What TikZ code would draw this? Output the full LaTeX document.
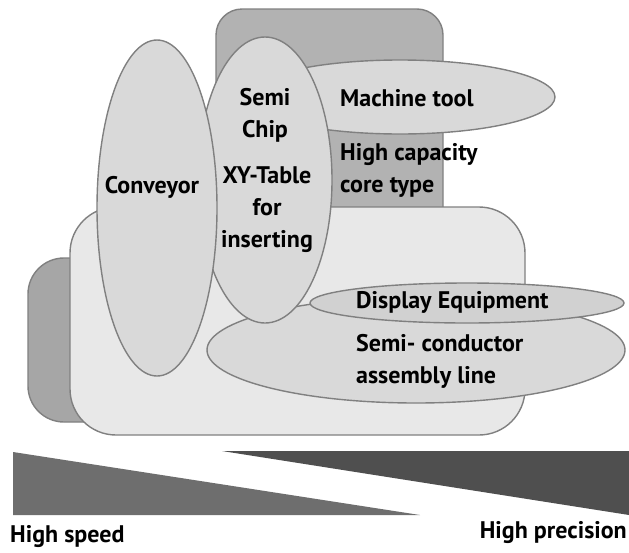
\documentclass[tikz,border=0pt]{standalone}
\usepackage{fontspec}
\setmainfont{PT Sans}
\begin{document}
\begin{tikzpicture}[x=1pt,y=-1pt,
  outline/.style={draw=black!50,line width=1.4pt},
  lbl/.style={font=\bfseries\fontsize{24}{32}\selectfont,inner sep=0pt,align=center},
  lbll/.style={lbl,anchor=west,align=left}]
\useasboundingbox (0,0) rectangle (629,552);
% back blocks
\draw[outline,fill=black!30,rounded corners=26pt] (216,9) rectangle (443,260);
\draw[outline,fill=black!35,rounded corners=36pt] (28,258) rectangle (200,422);
\draw[outline,fill=black!9,rounded corners=46pt] (70,207) rectangle (525,435);
% application ellipses
\draw[outline,fill=black!15] (400,97) ellipse [x radius=155,y radius=37];
\draw[outline,fill=black!15] (416,350) ellipse [x radius=209,y radius=53];
\draw[outline,fill=black!18] (467,303) ellipse [x radius=157,y radius=20];
\draw[outline,fill=black!15] (265,180) ellipse [x radius=67,y radius=143];
\draw[outline,fill=black!15] (157,208) ellipse [x radius=60,y radius=168];
% labels
\node[lbl] (semi) at (265,115) {Semi\\Chip};
\node[lbl] (conv) at (152,187) {Conveyor};
\node[lbl] (xy) at (267,210) {XY-Table\\for\\inserting};
\node[lbll] (mt) at (340,98) {Machine tool};
\node[lbll] (hc) at (340,170) {High capacity\\core type};
\node[lbll] (de) at (356,302) {Display Equipment};
\node[lbll] (sc) at (356,361) {Semi- conductor\\assembly line};
% speed / precision wedges
\fill[black!57] (13,452) -- (420,515) -- (13,515) -- cycle;
\fill[black!69] (222,451) -- (629,451) -- (629,515) -- cycle;
\node[lbl,anchor=west] (hs) at (10,537) {High speed};
\node[lbl,anchor=east] (hp) at (627,533) {High precision};
\end{tikzpicture}
\end{document}
